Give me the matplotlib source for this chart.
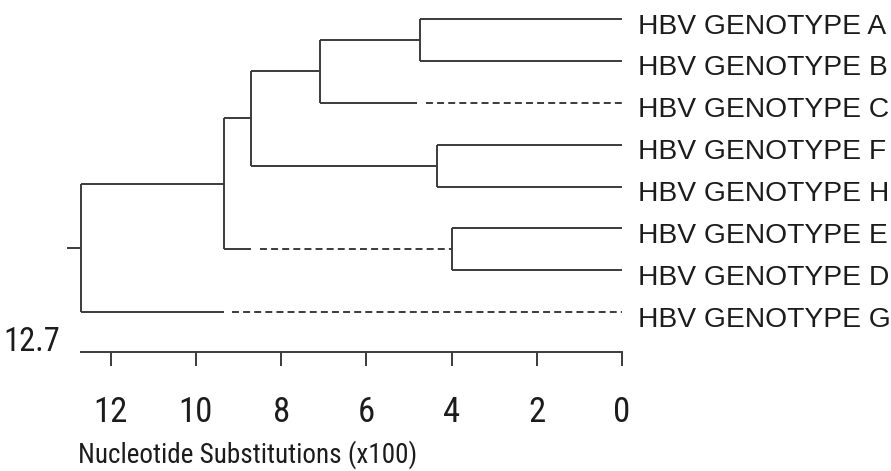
"""
Dendrogramm der HBV-Genotypen (Nucleotide Substitutions x100)
"""
import matplotlib
matplotlib.use("Agg")
import matplotlib.pyplot as plt

# Daten: Blätter von oben nach unten
tips = ["A", "B", "C", "F", "H", "E", "D", "G"]
tip_labels = ["HBV GENOTYPE " + t for t in tips]

# innere Knoten: Name, Kinder, Höhe (x100 Substitutionen)
node_names = ["AB", "ABC", "FH", "ED", "ABCFH", "N1", "ROOT"]
node_children = [("A", "B"), ("AB", "C"), ("F", "H"), ("E", "D"),
                 ("ABC", "FH"), ("ABCFH", "ED"), ("N1", "G")]
node_heights = [4.75, 7.1, 4.35, 4.0, 8.7, 9.35, 12.7]

# gestrichelte Äste: durchgezogen bis dash_from, danach gestrichelt
dash_names = ["C", "ED", "G"]
dash_from = [4.8, 8.7, 9.35]

xticks = [0, 2, 4, 6, 8, 10, 12]
xlabel = "Nucleotide Substitutions (x100)"

LINE = "#3b3b3b"
TEXT = "#1c1c1c"
NARROW = ["Liberation Sans Narrow", "Roboto Condensed", "Archivo Narrow", "Liberation Sans"]
plt.rcParams["lines.scale_dashes"] = False

height = {t: 0.0 for t in tips}
ypos = {t: i for i, t in enumerate(tips)}
children = dict(zip(node_names, node_children))
for name, h in zip(node_names, node_heights):
    height[name] = h
for name in node_names:
    a, b = children[name]
    ypos[name] = (ypos[a] + ypos[b]) / 2
dash_start = dict(zip(dash_names, dash_from))

fig = plt.figure(figsize=(8.91, 4.71), dpi=100)
ax = fig.add_axes([0, 0, 1, 1])

lw = 1.4
for name in node_names:
    a, b = children[name]
    h = height[name]
    ax.plot([h, h], [ypos[a], ypos[b]], color=LINE, lw=lw, solid_capstyle="butt")
    for c in (a, b):
        if c in dash_start:
            mid = dash_start[c]
            ax.plot([h, mid], [ypos[c], ypos[c]], color=LINE, lw=lw, solid_capstyle="butt")
            ax.plot([mid - 0.2, height[c]], [ypos[c], ypos[c]], color=LINE, lw=lw,
                    linestyle=(0, (5, 3)))
        else:
            ax.plot([h, height[c]], [ypos[c], ypos[c]], color=LINE, lw=lw, solid_capstyle="butt")

# Wurzelstummel
root_h = node_heights[-1]
ax.plot([root_h, root_h + 0.33], [ypos["ROOT"], ypos["ROOT"]], color=LINE, lw=lw,
        solid_capstyle="butt")

for t, lab in zip(tips, tip_labels):
    ax.annotate(lab, xy=(0, ypos[t]), xytext=(11.5, -10.5), textcoords="offset points",
                ha="left", va="baseline", fontsize=20.3, color=TEXT,
                family=["Liberation Sans", "DejaVu Sans"])

# Skala
axis_row = len(tips) - 1 + 0.95
ax.spines[["left", "top", "right"]].set_visible(False)
ax.spines["bottom"].set_position(("data", axis_row))
ax.spines["bottom"].set_bounds(0, root_h)
ax.spines["bottom"].set_color(LINE)
ax.spines["bottom"].set_linewidth(lw)
ax.set_yticks([])
ax.set_xticks(xticks)
ax.set_xticklabels([str(v) for v in xticks], family=NARROW, fontsize=25, color=TEXT)
ax.tick_params(axis="x", direction="out", length=10, width=lw, color=LINE, pad=22)
ax.text(root_h + 0.5, axis_row - 0.25, f"{root_h}", ha="right", va="center",
        fontsize=23.5, color=TEXT, family=NARROW)
ax.set_xlabel(xlabel, family=NARROW, fontsize=19.5, color=TEXT)
ax.xaxis.set_label_coords(0.2778, 0.066)
ax.xaxis.label.set_va("top")

ax.set_xlim(14.60, -6.315)
ax.set_ylim(10.79, -0.453)
ax.patch.set_visible(False)

fig.savefig("out.png", dpi=100, facecolor="white")
